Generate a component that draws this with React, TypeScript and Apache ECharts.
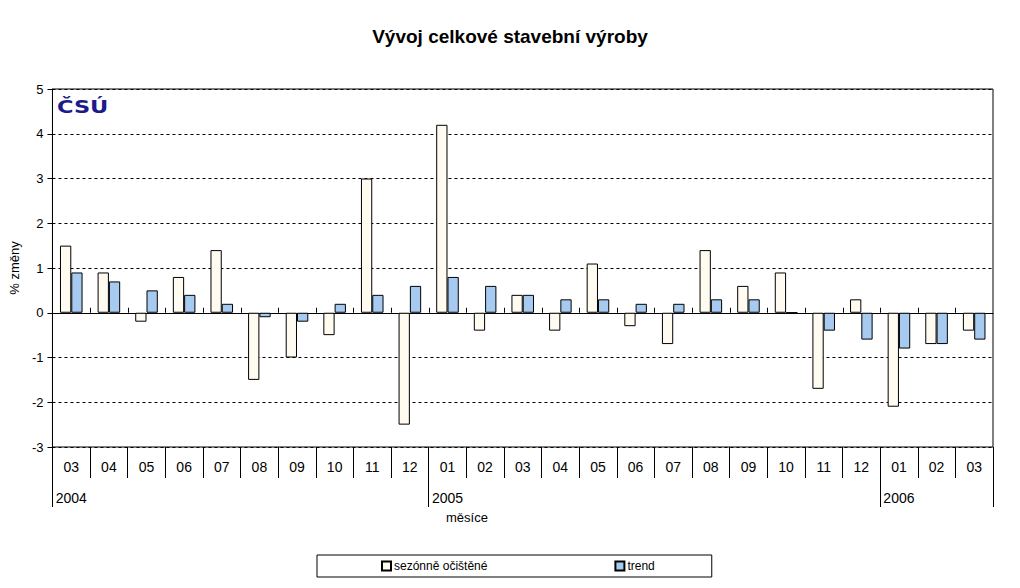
import React, { useEffect, useRef } from "react";
import * as echarts from "echarts";

const months = ["03","04","05","06","07","08","09","10","11","12","01","02","03","04","05","06","07","08","09","10","11","12","01","02","03"];
const years = ["2004","","","","","","","","","","2005","","","","","","","","","","","","2006","",""];
const yearStarts = [0, 10, 22];
const seasonal = [1.5,0.9,-0.2,0.8,1.4,-1.5,-1.0,-0.5,3.0,-2.5,4.2,-0.4,0.4,-0.4,1.1,-0.3,-0.7,1.4,0.6,0.9,-1.7,0.3,-2.1,-0.7,-0.4];
const trend = [0.9,0.7,0.5,0.4,0.2,-0.1,-0.2,0.2,0.4,0.6,0.8,0.6,0.4,0.3,0.3,0.2,0.2,0.3,0.3,0.0,-0.4,-0.6,-0.8,-0.7,-0.6];
const seriesNames = ["sezónně očištěné", "trend"];

const FONT = "Arial, 'Liberation Sans', sans-serif";

export default function App() {
  const ref = useRef<HTMLDivElement>(null);
  useEffect(() => {
    document.body.style.margin = "0";
    const chart = echarts.init(ref.current!, null, { renderer: "svg" });
    chart.setOption({
      animation: false,
      backgroundColor: "#fff",
      textStyle: { fontFamily: FONT, color: "#000" },
      title: {
        text: "Vývoj celkové stavební výroby",
        left: "center",
        top: 22,
        textStyle: { fontFamily: FONT, fontSize: 19, fontWeight: "bold", color: "#000" },
      },
      grid: {
        left: 48, right: 27, top: 89, bottom: 141,
        show: true, borderColor: "#000", borderWidth: 1, backgroundColor: "transparent",
      },
      legend: {
        left: 317, top: 555,
        padding: [5, 57, 5, 64],
        itemGap: 127,
        itemWidth: 9, itemHeight: 9,
        icon: "rect",
        borderColor: "#000", borderWidth: 1,
        textStyle: { fontFamily: FONT, fontSize: 12, color: "#000", padding: [0, 0, 0, -2] },
        data: seriesNames,
      },
      xAxis: [
        {
          type: "category", data: months, position: "bottom",
          axisLine: { show: false, onZero: false },
          axisTick: { show: true, length: 31, interval: 0, lineStyle: { color: "#000", width: 1 } },
          axisLabel: { show: true, interval: 0, margin: 13, fontSize: 14, color: "#000", fontFamily: FONT },
        },
        {
          type: "category", data: years, position: "bottom",
          axisLine: { show: false, onZero: false },
          axisTick: { show: true, length: 60, interval: (i: number) => yearStarts.includes(i), lineStyle: { color: "#000", width: 1 } },
          axisLabel: { show: true, interval: (i: number) => yearStarts.includes(i), margin: 44, fontSize: 14, color: "#000", fontFamily: FONT },
        },
        {
          type: "category", data: months, position: "top",
          axisLine: { show: true, onZero: true, lineStyle: { color: "#000", width: 1 } },
          axisTick: { show: false },
          axisLabel: { show: false },
        },
      ],
      yAxis: {
        type: "value", min: -3, max: 5, interval: 1,
        name: "% změny", nameLocation: "middle", nameGap: 24, nameRotate: 90,
        nameTextStyle: { fontFamily: FONT, fontSize: 13, color: "#000" },
        axisLine: { show: true, lineStyle: { color: "#000" } },
        axisTick: { show: true, length: 5, lineStyle: { color: "#000" } },
        axisLabel: { margin: 9, fontSize: 13, color: "#000", fontFamily: FONT },
        splitLine: { show: true, lineStyle: { color: "#000", type: [3, 3], width: 1 } },
      },
      series: [
        {
          name: seriesNames[0], type: "bar", data: seasonal, xAxisIndex: 0,
          barGap: "0%", barCategoryGap: "40%",
          itemStyle: { color: "#FFFBF0", borderColor: "#000", borderWidth: 1 },
        },
        {
          name: seriesNames[1], type: "bar", data: trend, xAxisIndex: 0,
          barGap: "0%", barCategoryGap: "40%",
          itemStyle: { color: "#A6CAF0", borderColor: "#000", borderWidth: 1 },
        },
        {
          type: "custom", xAxisIndex: 0, silent: true, z: 5,
          data: months.map((_, i) => [i, 0]),
          renderItem: (params: any, api: any) => {
            const idx = api.value(0);
            const p = api.coord([idx, 0]);
            const w = api.size([1, 0])[0];
            const x = Math.round(p[0] - w / 2) + 0.5;
            const y = p[1];
            const children: any[] = [
              { type: "line", shape: { x1: x, y1: y, x2: x, y2: y - 5 }, style: { stroke: "#000", lineWidth: 1 } },
            ];
            return { type: "group", children };
          },
        },
      ],
      graphic: [
        {
          type: "text", left: 57, top: 98, scaleX: 1.25,
          style: { text: "ČSÚ", fontFamily: "'DejaVu Sans', sans-serif", fontSize: 18, fontWeight: 900, fill: "#1b1b8c" },
        },
        {
          type: "text", left: 446, top: 511,
          style: { text: "měsíce", fontFamily: FONT, fontSize: 13, fill: "#000" },
        },
      ],
    });
    return () => chart.dispose();
  }, []);
  return <div ref={ref} style={{ width: 1020, height: 588 }} />;
}
